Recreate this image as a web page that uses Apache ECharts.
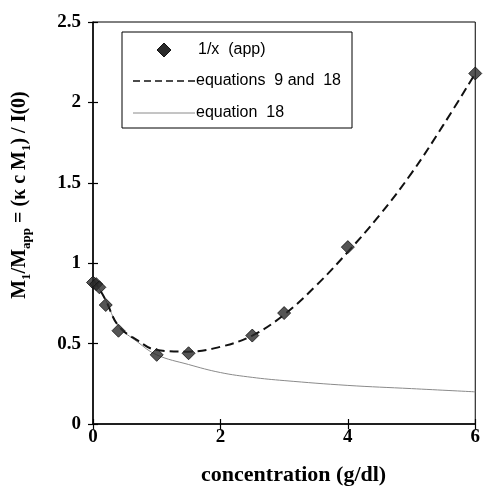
<!DOCTYPE html>
<html><head><meta charset="utf-8">
<script src="https://cdn.jsdelivr.net/npm/echarts@6/dist/echarts.min.js"></script>
<style>html,body{margin:0;padding:0;background:#fff}#c{width:483px;height:493px}</style>
</head><body><div id="c"></div>
<script>
// data
var pointX = [0, 0.05, 0.1, 0.2, 0.4, 1.0, 1.5, 2.5, 3.0, 4.0, 6.0];
var pointY = [0.88, 0.87, 0.85, 0.74, 0.58, 0.43, 0.44, 0.55, 0.69, 1.10, 2.18];
var eq918X = [0, 0.1, 0.2, 0.4, 0.7, 1.0, 1.5, 2.0, 2.5, 3.0, 3.5, 4.0, 4.5, 5.0, 5.5, 6.0];
var eq918Y = [0.90, 0.84, 0.77, 0.61, 0.52, 0.46, 0.45, 0.48, 0.55, 0.68, 0.86, 1.07, 1.30, 1.56, 1.86, 2.18];
var eq18X = [0, 0.1, 0.2, 0.4, 0.7, 1.0, 1.5, 2.0, 2.5, 3.0, 4.0, 5.0, 6.0];
var eq18Y = [0.90, 0.84, 0.77, 0.61, 0.51, 0.43, 0.37, 0.32, 0.29, 0.27, 0.24, 0.22, 0.20];
var legendNames = ['1/x  (app)', 'equations  9 and  18', 'equation  18'];

function zip(a, b) { return a.map(function (v, i) { return [v, b[i]]; }); }

var serif = 'Liberation Serif';
var chart = echarts.init(document.getElementById('c'));
var tickLbl = { fontFamily: serif, fontWeight: 'bold', fontSize: 19, color: '#000' };
var lgFont = '16px "Liberation Sans"';
chart.setOption({
  animation: false,
  grid: { left: 93, right: 6, top: 22, bottom: 69, show: true, borderColor: '#000', borderWidth: 1 },
  xAxis: [{
    type: 'value', min: 0, max: 6, interval: 2,
    axisLine: { lineStyle: { color: '#000', width: 1.5 } },
    axisTick: { show: true, length: 5, lineStyle: { color: '#000', width: 1.2 } },
    splitLine: { show: false },
    axisLabel: Object.assign({ margin: 4 }, tickLbl),
    name: 'concentration (g/dl)', nameLocation: 'middle', nameGap: 40,
    nameTextStyle: { fontFamily: serif, fontWeight: 'bold', fontSize: 22, color: '#000', padding: [0, 0, 0, 19] }
  }, {
    type: 'value', min: 0, max: 6, interval: 2, position: 'bottom',
    axisLine: { show: false }, axisLabel: { show: false }, splitLine: { show: false },
    axisTick: { show: true, inside: true, length: 5, lineStyle: { color: '#000', width: 1.2 } }
  }],
  yAxis: [{
    type: 'value', min: 0, max: 2.5, interval: 0.5,
    axisLine: { show: true, lineStyle: { color: '#000', width: 1.5 } },
    axisTick: { show: true, length: 5, lineStyle: { color: '#000', width: 1.2 } },
    splitLine: { show: false },
    axisLabel: Object.assign({ margin: 12 }, tickLbl),
    name: '{b|M}{s|1}{b|/M}{s|app}{b| = (κ c M}{s|1}{b|) / I(0)}',
    nameLocation: 'middle', nameGap: 60,
    nameTextStyle: {
      color: '#000',
      padding: [0, 0, 0, 56],
      rich: {
        b: { fontFamily: serif, fontWeight: 'bold', fontSize: 20, lineHeight: 26, color: '#000' },
        s: { fontFamily: serif, fontWeight: 'bold', fontSize: 13, lineHeight: 14, verticalAlign: 'bottom', color: '#000' }
      }
    }
  }, {
    type: 'value', min: 0, max: 2.5, interval: 0.5, position: 'left',
    axisLine: { show: false }, axisLabel: { show: false }, splitLine: { show: false },
    axisTick: { show: true, inside: true, length: 5, lineStyle: { color: '#000', width: 1.2 } }
  }],
  series: [{
    name: legendNames[2], type: 'line', data: zip(eq18X, eq18Y), smooth: 0.4, showSymbol: false,
    lineStyle: { color: '#8a8a8a', width: 1 }, z: 2
  }, {
    name: legendNames[1], type: 'line', data: zip(eq918X, eq918Y), smooth: 0.4, showSymbol: false,
    lineStyle: { color: '#111', width: 2, type: [9, 5] }, z: 3
  }, {
    name: legendNames[0], type: 'scatter', data: zip(pointX, pointY), symbol: 'diamond', symbolSize: 13,
    itemStyle: { color: '#2a2a2a', borderColor: '#111', borderWidth: 1 }, clip: false, z: 4
  }],
  graphic: [
    { type: 'rect', shape: { x: 122, y: 32, width: 230, height: 96 }, style: { fill: '#fff', stroke: '#000', lineWidth: 1 }, z: 10 },
    { type: 'polygon', shape: { points: [[164, 43], [171, 50], [164, 57], [157, 50]] }, style: { fill: '#2a2a2a', stroke: '#111', lineWidth: 1 }, z: 11 },
    { type: 'text', x: 198, y: 50, style: { text: legendNames[0], font: lgFont, fill: '#000', verticalAlign: 'middle' }, z: 11 },
    { type: 'line', shape: { x1: 133, y1: 81, x2: 195, y2: 81 }, style: { stroke: '#111', lineWidth: 1.3, lineDash: [7, 4] }, z: 11 },
    { type: 'text', x: 196, y: 81, style: { text: legendNames[1], font: lgFont, fill: '#000', verticalAlign: 'middle' }, z: 11 },
    { type: 'line', shape: { x1: 133, y1: 113, x2: 195, y2: 113 }, style: { stroke: '#8a8a8a', lineWidth: 1 }, z: 11 },
    { type: 'text', x: 196, y: 113, style: { text: legendNames[2], font: lgFont, fill: '#000', verticalAlign: 'middle' }, z: 11 }
  ]
});
</script>
</body></html>
